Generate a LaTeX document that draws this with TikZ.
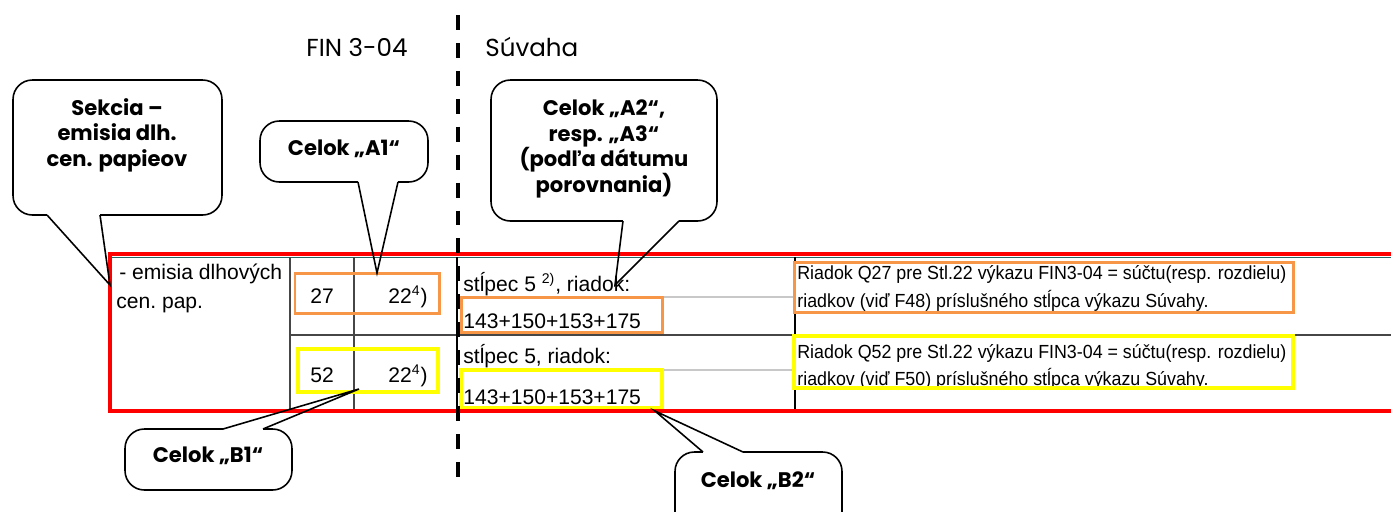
\documentclass[tikz,border=0pt]{standalone}
\usepackage{fontspec}
\setmainfont{Liberation Sans}
\newfontfamily\calfont{Poppins}
\newfontfamily\condfont[FakeStretch=0.94]{Liberation Sans}
\newcommand\tblfont{\condfont\fontsize{10.8}{12}\selectfont}
\newcommand\tblbigfont{\fontsize{12}{14}\selectfont}
\definecolor{xlorange}{RGB}{247,150,70}
\definecolor{xlyellow}{RGB}{255,255,0}
\definecolor{xlred}{RGB}{255,0,0}
\definecolor{xlteal}{RGB}{40,100,100}
\definecolor{gridgray}{RGB}{70,70,70}
\definecolor{lightgrid}{RGB}{200,200,200}
\tikzset{
  tbl/.style={font=\tblfont, inner sep=0pt, anchor=base west},
  tblbig/.style={font=\tblbigfont, inner sep=0pt, anchor=base west},
  tblnum/.style={font=\tblbigfont, inner sep=0pt, anchor=base},
  calbox/.style={draw=black, line width=0.9pt, rounded corners=11pt, inner sep=0pt},
  calptr/.style={draw=black, line width=0.9pt, line join=miter},
  calgap/.style={draw=white, line width=1.6pt},
  caltext/.style={font=\calfont\fontsize{12}{14.5}\selectfont\bfseries, align=center, inner sep=0pt},
  headtext/.style={font=\calfont\fontsize{14}{16}\selectfont, inner sep=0pt},
  orangebox/.style={draw=xlorange, line width=1.7pt},
  yellowbox/.style={draw=xlyellow, line width=2.2pt},
  gridline/.style={draw=gridgray, line width=0.6pt},
  lightline/.style={draw=lightgrid, line width=0.6pt},
}
\begin{document}
\begin{tikzpicture}[x=0.02cm,y=-0.02cm]
\useasboundingbox (0,0) rectangle (1391,511);
\clip (0,0) rectangle (1391,511);

% headings
\node[headtext] (fin) at (357,47) {FIN 3-04};
\node[headtext, anchor=west] (suv) at (485,47) {Súvaha};

% table grid
\draw[xlteal, line width=0.7pt] (112,257.5) -- (1395,257.5);
\draw[gridline] (290,257) -- (290,410);
\draw[gridline] (354,257) -- (354,410);
\draw[gridline] (290,335) -- (1395,335);
\draw[lightline] (459,297) -- (795,297);
\draw[lightline] (459,370) -- (795,370);
\draw[black, line width=1.6pt] (457,257) -- (457,410);
\draw[black, line width=1.6pt] (795,257) -- (795,410);
\draw[black, line width=1pt] (110,390) -- (110,400);

% table texts
\node[tblbig] (t1) at (119,279) {- emisia dlhových};
\node[tblbig] (t2) at (116,308) {cen.\ pap.};
\node[tblnum] (n27) at (322,303) {27};
\node[tblbig, anchor=base east] (n22a) at (428,303) {22\textsuperscript{4})};
\node[tblnum] (n52) at (322,382) {52};
\node[tblbig, anchor=base east] (n22b) at (428,382) {22\textsuperscript{4})};
\node[tblbig] (s1) at (463,291) {stĺpec 5 \textsuperscript{2)}, riadok:};
\node[tblbig] (r1) at (463,328) {143+150+153+175};
\node[tblbig] (s2) at (463,363) {stĺpec 5, riadok:};
\node[tblbig] (r2) at (463,404) {143+150+153+175};
\node[tbl] (q1a) at (797,279) {Riadok Q27 pre Stl.22 výkazu FIN3-04 = súčtu(resp. rozdielu)};
\node[tbl] (q1b) at (797,307) {riadkov (viď F48) príslušného stĺpca výkazu Súvahy.};
\node[tbl] (q2a) at (797,358) {Riadok Q52 pre Stl.22 výkazu FIN3-04 = súčtu(resp. rozdielu)};
\node[tbl] (q2b) at (797,385) {riadkov (viď F50) príslušného stĺpca výkazu Súvahy.};

% highlight boxes
\draw[orangebox] (295,273) rectangle (439,313);
\draw[yellowbox] (298,349) rectangle (438,392);
\draw[orangebox] (461,297) rectangle (662,332);
\draw[yellowbox] (461,370) rectangle (662,408);
\draw[orangebox] (794,262) rectangle (1293,312);
\draw[yellowbox] (794,336) rectangle (1293,388);

% red frame
\draw[xlred, line width=1.8pt] (110,254) rectangle (1400,411);

% dashed separator
\draw[black, line width=2.3pt, dash pattern=on 8.5pt off 7.4pt] (458,15) -- (458,485);

% callout boxes
\node[calbox, minimum width=4.18cm, minimum height=2.70cm] (bS)  at (117.5,147.5) {};
\node[calbox, minimum width=3.36cm, minimum height=1.22cm] (bA1) at (344,151.5) {};
\node[calbox, minimum width=4.52cm, minimum height=2.82cm] (bA2) at (604,150.5) {};
\node[calbox, minimum width=3.34cm, minimum height=1.22cm] (bB1) at (208.5,459.5) {};
\node[calbox, minimum width=3.34cm, minimum height=1.60cm] (bB2) at (758.5,492) {};

% pointer tips and bases
\coordinate (tipS) at (110,285);
\coordinate (tipA1) at (377,273);
\coordinate (tipA2) at (615,285);
\coordinate (tipB1) at (359,389);
\coordinate (tipB2) at (655,411);
\coordinate (s1) at (47,215);   \coordinate (s2) at (100,215);
\coordinate (a1l) at (358,182); \coordinate (a1r) at (398,182);
\coordinate (a2l) at (623,221); \coordinate (a2r) at (679,221);
\coordinate (b1l) at (223,429); \coordinate (b1r) at (263,429);
\coordinate (b2l) at (703,452); \coordinate (b2r) at (743,452);

\draw[calgap] (s1) -- (s2);
\draw[calgap] (a1l) -- (a1r);
\draw[calgap] (a2l) -- (a2r);
\draw[calgap] (b1l) -- (b1r);
\draw[calgap] (b2l) -- (b2r);
\draw[calptr] (s1) -- (tipS) -- (s2);
\draw[calptr] (a1l) -- (tipA1) -- (a1r);
\draw[calptr] (a2l) -- (tipA2) -- (a2r);
\draw[calptr] (b1l) -- (tipB1) -- (b1r);
\draw[calptr] (b2l) -- (tipB2) -- (b2r);

% callout texts
\node[caltext] (cS) at (117,135) {Sekcia –\\emisia dlh.\\cen. papieov};
\node[caltext] (cA1) at (344,149) {Celok „A1“};
\node[caltext] (cA2) at (604,149) {Celok „A2“,\\resp. „A3“\\(podľa dátumu\\porovnania)};
\node[caltext] (cB1) at (208,456) {Celok „B1“};
\node[caltext] (cB2) at (758,481) {Celok „B2“};
\end{tikzpicture}
\end{document}
